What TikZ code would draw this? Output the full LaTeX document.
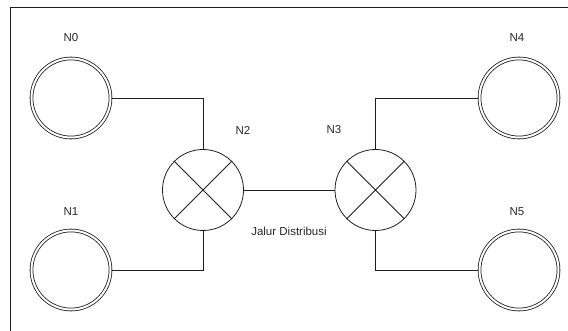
\documentclass[tikz,border=0pt]{standalone}
\usepackage{fontspec}
\setmainfont{Liberation Sans}
\usetikzlibrary{calc}
\definecolor{lineclr}{RGB}{30,30,30}
\definecolor{textclr}{RGB}{40,40,40}
\tikzset{
  endnode/.style={circle,draw=lineclr,double,double distance=2pt,line width=.8pt,minimum size=79pt,inner sep=0pt,outer sep=1.6pt},
  junction/.style={circle,draw=lineclr,line width=.8pt,minimum size=81pt,inner sep=0pt},
  link/.style={draw=lineclr,line width=.8pt},
  tag/.style={text=textclr,inner sep=0pt}
}

\begin{document}
\begin{tikzpicture}[x=1pt,y=-1pt,font=\fontsize{11.5}{13}\selectfont]
    \useasboundingbox (0,0) rectangle (568,331);
    \draw[link] (10,331)--(10,7)--(568,7);
    % end points
    \node[endnode] (n0) at (71,98) {};
    \node[endnode] (n1) at (71,270) {};
    \node[endnode] (n4) at (519,98) {};
    \node[endnode] (n5) at (519,270) {};
    % junctions
    \node[junction] (n2) at (203,190) {};
    \node[junction] (n3) at (375.5,190) {};
    \foreach \j in {n2,n3}{
      \draw[link] (\j.north west)--(\j.south east) (\j.north east)--(\j.south west);
    }
    \node[tag] (t0) at (71,38) {N0};
    \node[tag] (t1) at (71,212) {N1};
    \node[tag] (t2) at (243,130) {N2};
    \node[tag] (t3) at (334,130) {N3};
    \node[tag] (t4) at (517,38) {N4};
    \node[tag] (t5) at (517,212) {N5};
    \node[tag] (jd) at (289,231) {Jalur Distribusi};
    \draw[link] (n0.east) -| (n2.north);
    \draw[link] (n1.east) -| (n2.south);
    \draw[link] (n2.east)--(n3.west);
    \draw[link] (n3.north) |- (n4.west);
    \draw[link] (n3.south) |- (n5.west);
  \end{tikzpicture}
\end{document}
